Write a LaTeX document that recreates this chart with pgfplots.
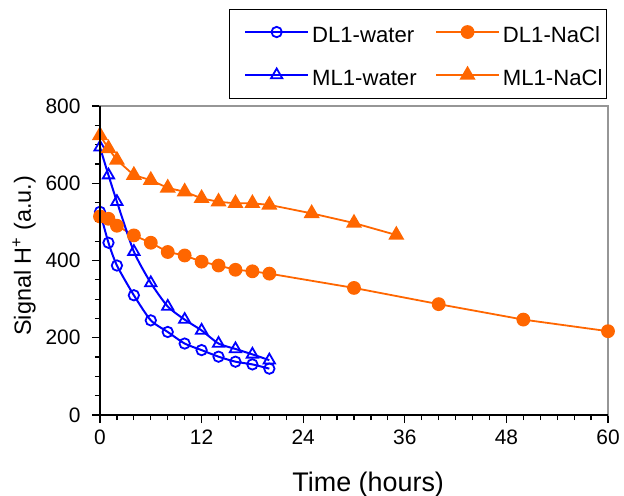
\documentclass[border=0pt]{standalone}
\usepackage{fontspec}
\setmainfont{Liberation Sans}
\usepackage{pgfplots}
\pgfplotsset{compat=1.18}
\definecolor{myblue}{RGB}{0,0,255}
\definecolor{myorange}{RGB}{255,102,0}
\definecolor{framegray}{RGB}{150,150,150}
\begin{document}
\begin{tikzpicture}
\begin{axis}[
  scale only axis, width=508bp, height=309bp,
  xmin=0, xmax=60, ymin=0, ymax=800,
  xtick={0,12,...,60}, ytick={0,200,...,800},
  minor x tick num=5, minor y tick num=3,
  tick align=outside, xtick pos=left, ytick pos=left,
  major tick length=8bp, minor tick length=5bp,
  every tick/.style={black, line width=1.2bp},
  axis line style={draw=framegray, line width=1.8bp},
  tick label style={font=\fontsize{21}{24}\selectfont, text=black},
  yticklabel style={xshift=-8bp},
  xticklabel style={yshift=-3bp},
  /pgf/number format/assume math mode=true,
  xlabel={Time (hours)},
  ylabel={Signal H\textsuperscript{+} (a.u.)},
  xlabel style={font=\fontsize{27}{31}\selectfont, at={(axis description cs:0.528,0)}, anchor=base, yshift=-76bp},
  ylabel style={font=\fontsize{23.5}{27}\selectfont, at={(axis description cs:-0.136,0.515)}, anchor=base},
  legend columns=2,
  legend style={at={(1,1)}, anchor=south east, xshift=-1bp, yshift=7.5bp,
    draw=black, line width=1bp, font=\fontsize{22.2}{25}\selectfont,
    inner xsep=1bp, inner ysep=9.5bp, row sep=16bp,
    nodes={inner xsep=3bp, text height=21.5bp},
    /tikz/every even column/.append style={column sep=2bp}},
  legend cell align=left,
  legend image code/.code={
    \fill[white, opacity=0] (0bp,-0.5bp) rectangle (1bp,0.5bp);
    \draw[mark repeat=2,mark phase=2] plot coordinates {(13.5bp,0bp) (45bp,0bp) (76.5bp,0bp)};
  },
  after end axis/.code={
    \draw[black, line width=1.5bp] (rel axis cs:0,1) -- (rel axis cs:0,0) -- (rel axis cs:1,0);
  },
  clip=false,
]
\addplot[myblue, line width=2bp, smooth, tension=0.4, mark=o, mark size=5.2bp, mark options={line width=1.8bp, solid}]
 coordinates {(0,526) (1,446) (2,387) (4,310) (6,245) (8,215) (10,185) (12,168) (14,151) (16,138) (18,131) (20,120)};
\addlegendentry{DL1-water}
\addplot[myorange, line width=1.8bp, mark=*, mark size=6bp, mark options={fill=myorange, draw=myorange}]
 coordinates {(0,514) (1,508) (2,490) (4,465) (6,446) (8,422) (10,413) (12,397) (14,387) (16,376) (18,372) (20,366) (30,329) (40,287) (50,247) (60,217)};
\addlegendentry{DL1-NaCl}
\addplot[myblue, line width=2bp, smooth, tension=0.4, mark=triangle, mark size=6.5bp, mark options={line width=1.8bp, solid}]
 coordinates {(0,693) (1,621) (2,552) (4,423) (6,342) (8,281) (10,247) (12,219) (14,185) (16,171) (18,157) (20,142)};
\addlegendentry{ML1-water}
\addplot[myorange, line width=1.8bp, mark=triangle*, mark size=7.5bp, mark options={fill=myorange, draw=myorange}]
 coordinates {(0,724) (1,690) (2,660) (4,621) (6,608) (8,588) (10,578) (12,561) (14,552) (16,548) (18,548) (20,544) (25,522) (30,497) (35,466)};
\addlegendentry{ML1-NaCl}
\end{axis}
\pgfresetboundingbox
\path[use as bounding box] ([xshift=-100bp,yshift=-81bp]current axis.south west) rectangle ([xshift=16bp,yshift=106bp]current axis.north east);
\end{tikzpicture}
\end{document}
